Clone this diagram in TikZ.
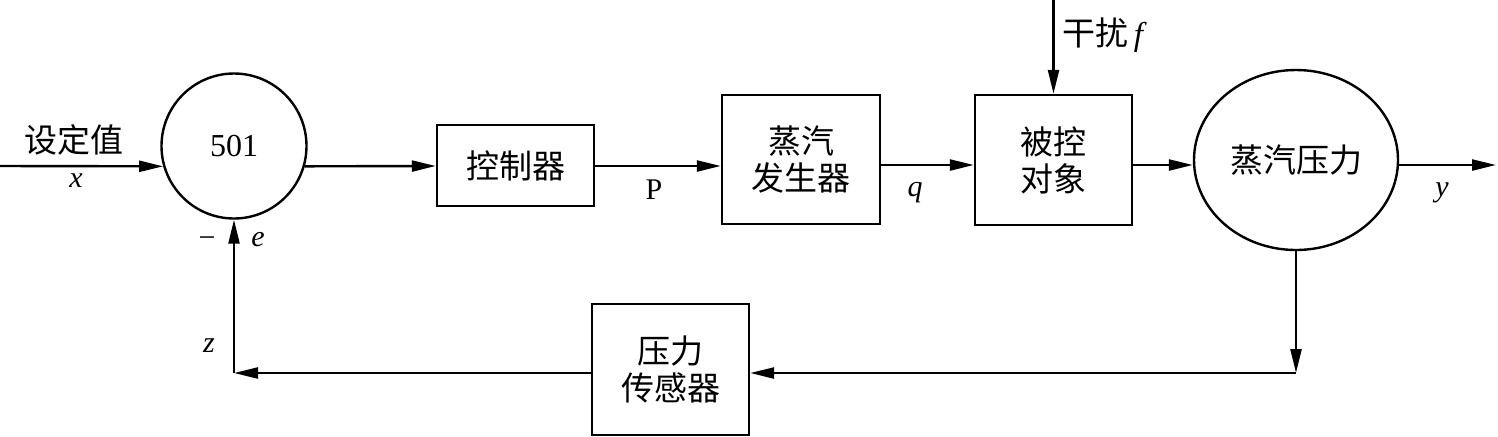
\documentclass[tikz,border=0pt]{standalone}
\usepackage{fontspec}
\setmainfont{Liberation Serif}
\newfontfamily\cjk{Noto Sans CJK SC}
\usetikzlibrary{arrows.meta,shapes.geometric}
\tikzset{
  conn/.style={line width=1.2pt,-{Triangle[length=12pt,width=5.5pt]}},
  blk/.style={draw,line width=1.2pt,rectangle,inner sep=0pt,align=center,
    font=\cjk\fontsize{16.5pt}{18.5pt}\selectfont},
  rnd/.style={draw,line width=1.2pt,circle,inner sep=0pt},
  lbl/.style={inner sep=0pt,font=\fontsize{15pt}{17pt}\selectfont},
  cjklbl/.style={inner sep=0pt,font=\cjk\fontsize{16.5pt}{18.5pt}\selectfont}
}
\begin{document}
\begin{tikzpicture}[x=0.5pt,y=-0.5pt]
\useasboundingbox (0,0) rectangle (1498,436);
% blocks
\node[rnd,minimum size=72.5pt,font=\fontsize{16pt}{18pt}\selectfont] (c501) at (234,146) {501};
\node[blk,minimum width=78.5pt,minimum height=40.5pt] (ctrl) at (515.5,165.5) {控制器};
\node[blk,minimum width=79pt,minimum height=64.5pt] (gen) at (801,159.5) {蒸汽\\发生器};
\node[blk,minimum width=78.5pt,minimum height=65pt] (plant) at (1053.5,160) {被控\\对象};
\node[draw,line width=1.2pt,ellipse,inner sep=0pt,minimum width=102pt,minimum height=90pt,
  font=\cjk\fontsize{16.5pt}{18.5pt}\selectfont] (press) at (1296,160) {蒸汽压力};
\node[blk,minimum width=78.5pt,minimum height=65.5pt] (sensor) at (670.5,369.5) {压力\\传感器};
% coordinates
\coordinate (main) at (0,166);
\coordinate (out) at (1496,165);
\coordinate (dtop) at (1053.5,0);
\coordinate (fbR) at (1296,373);
\coordinate (fbL) at (234,373);
% forward path
\draw[conn] (main) -- (c501.196);
\draw[conn] (c501.-16) -- (ctrl.west |- main);
\draw[conn] (ctrl.east |- main) -- (gen.west |- main);
\draw[conn] (gen.east |- out) -- (plant.west |- out);
\draw[conn] (plant.east |- out) -- (press.west |- out);
\draw[conn] (press.east |- out) -- (out);
\draw[conn] (dtop) -- (plant.north);
% feedback
\draw[conn] (press.south) -- (fbR);
\draw[conn] (fbR) -- (sensor.east |- fbR);
\draw[conn] (sensor.west |- fbL) -- (fbL);
\draw[conn] (fbL) -- (c501.south);
% labels
\node[cjklbl] (lset) at (74,140) {设定值};
\node[lbl] (lx) at (76,181) {\textit{x}};
\node[lbl] (lP) at (654,190) {P};
\node[lbl] (lq) at (915,193) {\textit{q}};
\node[lbl] (ly) at (1442,193) {\textit{y}};
\node[cjklbl,anchor=west] (ldist) at (1062,35) {干扰\,{\fontspec{Liberation Serif}\itshape f}};
\node[lbl] (lminus) at (207,242) {−};
\node[lbl] (le) at (258,240) {\textit{e}};
\node[lbl] (lz) at (209,346) {\textit{z}};
\end{tikzpicture}
\end{document}
